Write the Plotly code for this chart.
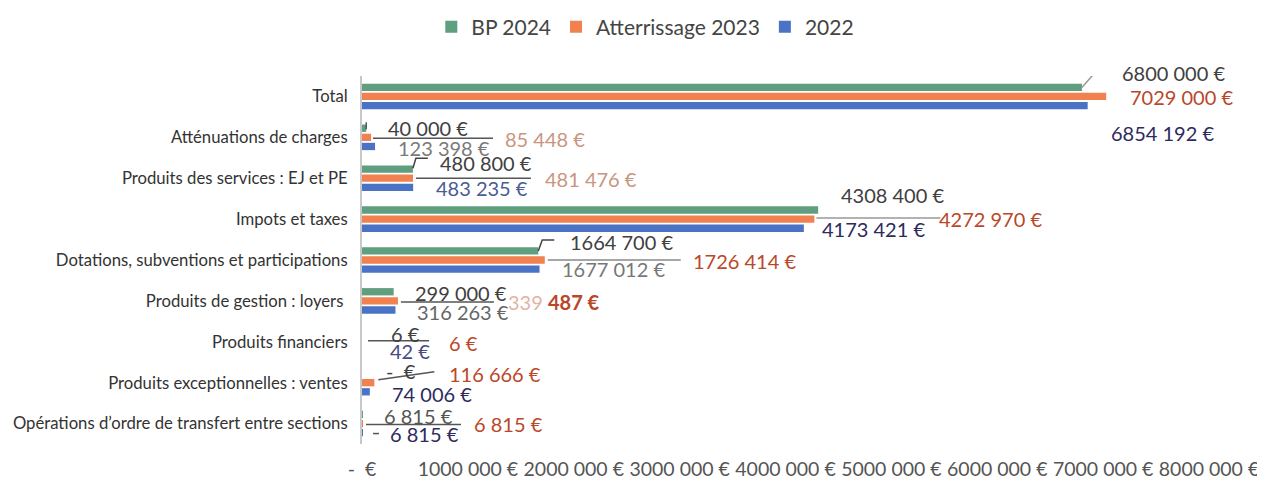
import plotly.graph_objects as go

# ---------------- data ----------------
categories = [
    "Total",
    "Atténuations de charges",
    "Produits des services : EJ et PE",
    "Impots et taxes",
    "Dotations, subventions et participations",
    "Produits de gestion : loyers ",
    "Produits financiers",
    "Produits exceptionnelles : ventes",
    "Opérations d’ordre de transfert entre sections",
]
series_names = ["BP 2024", "Atterrissage 2023", "2022"]
bp_2024 = [6800000, 40000, 480800, 4308400, 1664700, 299000, 6, 0, 6815]
atterrissage_2023 = [7029000, 85448, 481476, 4272970, 1726414, 339487, 6, 116666, 6815]
real_2022 = [6854192, 123398, 483235, 4173421, 1677012, 316263, 42, 74006, 6815]
tick_values = [0, 1000000, 2000000, 3000000, 4000000, 5000000, 6000000, 7000000, 8000000]

series_values = [bp_2024, atterrissage_2023, real_2022]
bar_colors = ["#5f9e7e", "#f28150", "#4a73c6"]


def fmt(v):
    if v == 0:
        return "-  €"
    if v >= 1000:
        return f"{v // 1000} {v % 1000:03d} €"
    return f"{v} €"


# ---------------- layout constants ----------------
# the page body adds an 8px margin, so the figure is 8px smaller each way
W, H = 1257, 476
ML, MR, MT, MB = 354, 56, 68, 40
PLOT_W = W - ML - MR
X_MAX = 8000000
EUR_PER_PX = X_MAX / PLOT_W
ROW_PX = (H - MT - MB) / len(categories)

FONT = "Lato"
DARK = "#404040"
RUST = "#b9482a"
NAVY = "#2d2b5e"

fig = go.Figure()
for name, vals, col in zip(series_names, series_values, bar_colors):
    fig.add_trace(go.Bar(
        y=categories, x=vals, name=name, orientation="h",
        marker=dict(color=col, line=dict(width=0)),
        hoverinfo="x+y+name",
    ))

# data labels: (series index, category index, dx px, dy px, color)
label_specs = [
    (0, 0, 92, -23, DARK), (1, 0, 75, 1, RUST), (2, 0, 75, 37, NAVY),
    (0, 1, 62, -9, DARK), (1, 1, 174, 2, "#c99580"), (2, 1, 69, 11, "#7a7a7a"),
    (0, 2, 73, -15, DARK), (1, 2, 178, 1, "#c99580"), (2, 2, 69, 10, "#4b5b93"),
    (0, 3, 74, -24, DARK), (1, 3, 176, 0, RUST), (2, 3, 70, 10, NAVY),
    (0, 4, 83, -18, DARK), (1, 4, 200, 1, RUST), (2, 4, 74, 9, "#777777"),
    (0, 5, 67, -8, DARK), (1, 5, 156, 1, RUST), (2, 5, 68, 11, "#666666"),
    (0, 6, 43, -8, DARK), (1, 6, 101, 1, RUST), (2, 6, 48, 9, "#4a4a80"),
    (0, 7, 39, -12, DARK), (1, 7, 121, -9, RUST), (2, 7, 62, 11, NAVY),
    (0, 8, 56, -8, "#555555"), (1, 8, 146, 0, RUST), (2, 8, 62, 10, NAVY),
]
for s, k, dx, dy, col in label_specs:
    v = series_values[s][k]
    txt = fmt(v)
    if s == 1 and k == 5:
        parts = txt.split(" ", 1)
        txt = f"<span style='color:#e2b4a4'>{parts[0]}</span> <b>{parts[1]}</b>"
    fig.add_annotation(
        x=v, y=categories[k], xref="x", yref="y", text=txt, showarrow=False,
        xshift=dx, yshift=-dy, xanchor="center", yanchor="middle",
        font=dict(family=FONT, size=20, color=col),
    )


def pt(v, dx, k, dy):
    return v + dx * EUR_PER_PX, k + dy / ROW_PX


# leader lines: (category index, reference value, [(dx, dy)...], color)
leaders = [
    (0, bp_2024[0], [(0, -9), (14, -25), (27, -25)], "#999999"),
    (1, bp_2024[1], [(0, -8), (0, -15)], "#555555"),
    (1, 0, [(11, 1), (131, 1)], "#555555"),
    (2, bp_2024[2], [(0, -10), (3, -20), (15, -20)], "#444444"),
    (2, bp_2024[2], [(3, 0), (118, 0)], "#555555"),
    (3, atterrissage_2023[3], [(2, -1), (126, -1)], "#999999"),
    (4, bp_2024[4], [(0, -9), (4, -20), (16, -20)], "#444444"),
    (4, atterrissage_2023[4], [(3, 0), (136, 0)], "#888888"),
    (5, atterrissage_2023[5], [(3, 1), (96, 1)], "#555555"),
    (6, 0, [(6, -1), (67, -1)], "#555555"),
    (7, atterrissage_2023[7], [(4, -3), (60, -11)], "#555555"),
    (8, 0, [(4, 1), (99, 1)], "#555555"),
    (8, 0, [(11, 10), (17, 10)], "#555555"),
]
for k, v, pts, col in leaders:
    coords = [pt(v, dx, k, dy) for dx, dy in pts]
    path = "M " + " L ".join(f"{x},{y}" for x, y in coords)
    fig.add_shape(type="path", path=path, xref="x", yref="y",
                  line=dict(color=col, width=1.5))

fig.update_layout(
    width=W, height=H,
    margin=dict(l=ML, r=MR, t=MT, b=MB, autoexpand=False),
    paper_bgcolor="white", plot_bgcolor="white",
    barmode="group", bargap=0.33, bargroupgap=0.2,
    font=dict(family=FONT, color="#333333"),
    showlegend=True,
    legend=dict(
        orientation="h", xref="container", yref="container",
        x=0.507, y=1 - 19 / H, xanchor="center", yanchor="middle",
        font=dict(family=FONT, size=21, color="#444444"),
        traceorder="normal", itemsizing="constant", itemwidth=30,
    ),
    xaxis=dict(
        range=[0, X_MAX], showgrid=False, zeroline=False, showline=False,
        tickvals=tick_values, ticktext=[fmt(v) for v in tick_values],
        tickfont=dict(family=FONT, size=19.5, color="#555555"),
        ticklabelstandoff=11,
    ),
    yaxis=dict(
        type="category", categoryorder="array", categoryarray=categories,
        range=[len(categories) - 0.5, -0.5], autorange=False,
        showgrid=False, zeroline=False,
        showline=True, linecolor="#c8c8c8", linewidth=2,
        tickfont=dict(family=FONT, size=16.7, color="#333333"),
        ticklabelstandoff=9,
    ),
)

fig.write_html("out.html")
